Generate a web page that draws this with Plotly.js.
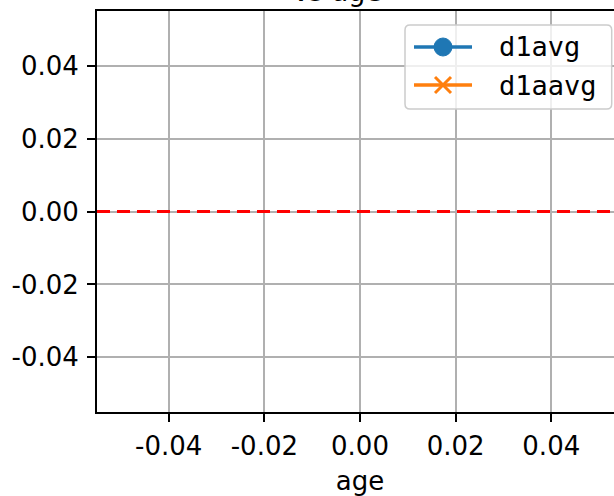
<!DOCTYPE html>
<html>
<head>
<meta charset="utf-8">
<script src="https://cdn.plot.ly/plotly-3.0.1.min.js"></script>
<style>
  html, body { margin: 0; padding: 0; overflow: hidden; background: #fff; }
  #chart { width: 623px; height: 496px; }
</style>
</head>
<body>
<div id="chart"></div>
<script>
// ---- data ----
const seriesNames = ['d1avg', 'd1aavg'];
const seriesColors = ['#1f77b4', '#ff7f0e'];
const d1avgX = [];
const d1avgY = [];
const d1aavgX = [];
const d1aavgY = [];
const refLineY = [0];
const xTickVals = [-0.04, -0.02, 0, 0.02, 0.04];
const xTickLabels = ['-0.04', '-0.02', '0.00', '0.02', '0.04'];
const yTickVals = [-0.04, -0.02, 0, 0.02, 0.04];
const yTickLabels = ['-0.04', '-0.02', '0.00', '0.02', '0.04'];
const xRange = [-0.055, 0.055];
const yRange = [-0.055, 0.055];
const titleText = 'vs age';
const xLabel = 'age';

// ---- geometry helpers (pixel -> paper) ----
const FW = 623, FH = 496;
const L = 97, T = 11, W = 526, H = 401;
const px = v => (v - L) / W;
const py = v => (T + H - v) / H;

const traces = [
  { x: d1avgX, y: d1avgY, name: seriesNames[0], type: 'scatter', mode: 'lines+markers',
    line: { color: seriesColors[0], width: 3.5 }, marker: { symbol: 'circle', size: 15, color: seriesColors[0] }, showlegend: false },
  { x: d1aavgX, y: d1aavgY, name: seriesNames[1], type: 'scatter', mode: 'lines+markers',
    line: { color: seriesColors[1], width: 3.5 }, marker: { symbol: 'x-thin-open', size: 15, color: seriesColors[1], line: { width: 3, color: seriesColors[1] } }, showlegend: false }
];

// legend box (rounded rect) in paper coords
const bx0 = 405, bx1 = 611.7, by0 = 25, by1 = 109, r = 5;
const rx = r / W, ry = r / H;
const X0 = px(bx0), X1 = px(bx1), Y0 = py(by0), Y1 = py(by1);
const boxPath = `M${X0 + rx},${Y0} L${X1 - rx},${Y0} Q${X1},${Y0} ${X1},${Y0 - ry} L${X1},${Y1 + ry} Q${X1},${Y1} ${X1 - rx},${Y1} L${X0 + rx},${Y1} Q${X0},${Y1} ${X0},${Y1 + ry} L${X0},${Y0 - ry} Q${X0},${Y0} ${X0 + rx},${Y0} Z`;

const rowY = [47, 85];
const shapes = [
  { type: 'line', xref: 'paper', yref: 'y', x0: 0, x1: 1, y0: refLineY[0], y1: refLineY[0],
    line: { color: 'red', width: 3, dash: '13px,7px' }, layer: 'above' },
  { type: 'path', xref: 'paper', yref: 'paper', path: boxPath,
    fillcolor: 'rgba(255,255,255,0.8)', line: { color: '#cccccc', width: 1.5 }, layer: 'above' },
  // row 1: line + circle
  { type: 'line', xref: 'paper', yref: 'paper', x0: px(414), x1: px(472), y0: py(rowY[0]), y1: py(rowY[0]),
    line: { color: seriesColors[0], width: 3.5 }, layer: 'above' },
  { type: 'circle', xref: 'paper', yref: 'paper', xsizemode: 'pixel', ysizemode: 'pixel',
    xanchor: px(443), yanchor: py(rowY[0]), x0: -9, x1: 9, y0: -9, y1: 9,
    fillcolor: seriesColors[0], line: { color: seriesColors[0], width: 1 }, layer: 'above' },
  // row 2: line + x marker
  { type: 'line', xref: 'paper', yref: 'paper', x0: px(414), x1: px(472), y0: py(rowY[1]), y1: py(rowY[1]),
    line: { color: seriesColors[1], width: 3.5 }, layer: 'above' },
  { type: 'line', xref: 'paper', yref: 'paper', xsizemode: 'pixel', ysizemode: 'pixel',
    xanchor: px(443), yanchor: py(rowY[1]), x0: -8, x1: 8, y0: -8, y1: 8,
    line: { color: seriesColors[1], width: 3 }, layer: 'above' },
  { type: 'line', xref: 'paper', yref: 'paper', xsizemode: 'pixel', ysizemode: 'pixel',
    xanchor: px(443), yanchor: py(rowY[1]), x0: -8, x1: 8, y0: 8, y1: -8,
    line: { color: seriesColors[1], width: 3 }, layer: 'above' }
];

const annotations = [
  { text: seriesNames[0], xref: 'paper', yref: 'paper', x: px(497), y: py(rowY[0]), xanchor: 'left', yanchor: 'middle',
    showarrow: false, font: { family: 'DejaVu Sans Mono', size: 27, color: '#000' } },
  { text: seriesNames[1], xref: 'paper', yref: 'paper', x: px(497), y: py(rowY[1]), xanchor: 'left', yanchor: 'middle',
    showarrow: false, font: { family: 'DejaVu Sans Mono', size: 27, color: '#000' } },
  { text: titleText, xref: 'paper', yref: 'paper', x: px(384), y: 1, xanchor: 'right', yanchor: 'bottom', yshift: 2,
    showarrow: false, font: { family: 'DejaVu Sans', size: 27, color: '#000' } }
];

const axisCommon = {
  showgrid: true, gridcolor: '#b0b0b0', gridwidth: 2,
  showline: true, linecolor: '#000', linewidth: 2, mirror: true,
  ticks: 'outside', ticklen: 8, tickwidth: 2, tickcolor: '#000',
  zeroline: false, tickfont: { family: 'DejaVu Sans', size: 26, color: '#000' }
};

const layout = {
  width: FW, height: FH,
  margin: { l: L, r: FW - L - W, t: T, b: FH - T - H, pad: 0 },
  paper_bgcolor: '#fff', plot_bgcolor: '#fff',
  showlegend: false,
  xaxis: Object.assign({}, axisCommon, {
    range: xRange, tickmode: 'array', tickvals: xTickVals, ticktext: xTickLabels, ticklabelstandoff: 2,
    title: { text: xLabel, font: { family: 'DejaVu Sans', size: 26, color: '#000' }, standoff: 12 }
  }),
  yaxis: Object.assign({}, axisCommon, {
    range: yRange, tickmode: 'array', tickvals: yTickVals, ticktext: yTickLabels, ticklabelstandoff: 3
  }),
  shapes: shapes,
  annotations: annotations
};

Plotly.newPlot('chart', traces, layout, { displayModeBar: false, staticPlot: true });
</script>
</body>
</html>
